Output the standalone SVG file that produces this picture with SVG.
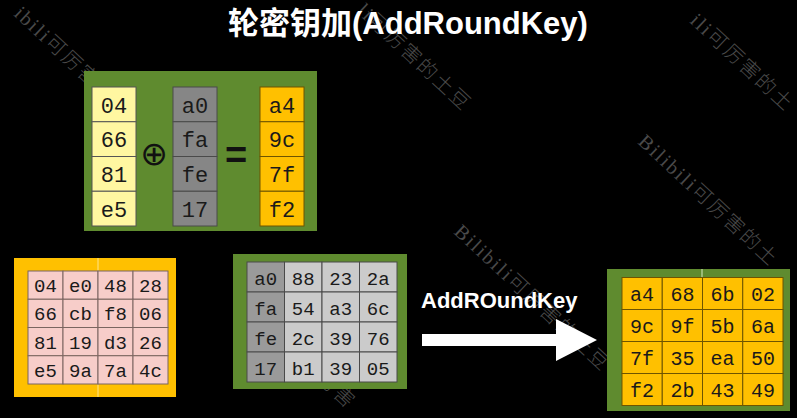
<svg xmlns="http://www.w3.org/2000/svg" width="797" height="418" viewBox="0 0 797 418">
<style>
.wm{font-family:"Liberation Serif","Noto Sans CJK SC",serif;font-size:20px;letter-spacing:2px;fill:#4a4a4a;font-weight:300}
.title{font-family:"Liberation Sans","Noto Sans CJK SC",sans-serif;font-weight:bold;font-size:31px;fill:#fff}
.lbl{font-family:"Liberation Sans",Arial,sans-serif;font-weight:bold;font-size:22px;fill:#fff}
.m22{font-family:"Liberation Mono","Courier New",monospace;font-size:22px;fill:#1a1a1a;text-anchor:middle}
.m19{font-family:"Liberation Mono","Courier New",monospace;font-size:19px;fill:#1a1a1a;text-anchor:middle}
.m20{font-family:"Liberation Mono","Courier New",monospace;font-size:20px;fill:#1a1a1a;text-anchor:middle}
.green{fill:#5f8b2f}
.y{fill:#fff7a1;stroke:#555;stroke-width:1}
.g{fill:#868686;stroke:#4a4a4a;stroke-width:1}
.o{fill:#ffc000;stroke:#6e5400;stroke-width:1}
.p{fill:#f7cdc9;stroke:#7a6560;stroke-width:1}
.dg{fill:#9a9a9a;stroke:#4a4a4a;stroke-width:1}
.lg{fill:#cbcbcb;stroke:#4a4a4a;stroke-width:1}
</style>
<rect width="797" height="418" fill="#000"/>

<g id="watermarks">
<text class="wm" transform="translate(13,15) rotate(43)">ibili可厉害</text>
<text class="wm" transform="translate(356,12) rotate(43)">li可厉害的土豆</text>
<text class="wm" transform="translate(689,22) rotate(43)">ili可厉害的土</text>
<text class="wm" transform="translate(637,143) rotate(43)">Bilibili可厉害的土</text>
<text class="wm" transform="translate(453,233) rotate(43)">Bilibili可厉害的土豆</text>
<text class="wm" transform="translate(316,380) rotate(43)">厉害</text>
</g>

<g id="title"><text class="title" x="228" y="34">轮密钥加(AddRoundKey)</text></g>

<g id="xor-panel">
<rect class="green" x="84" y="71" width="233" height="160"/>
<g id="state-col">
<rect class="y" x="92" y="87" width="44" height="34.75"/>
<rect class="y" x="92" y="121.75" width="44" height="34.75"/>
<rect class="y" x="92" y="156.5" width="44" height="34.75"/>
<rect class="y" x="92" y="191.25" width="44" height="34.75"/>
<text class="m22" x="114" y="112.7">04</text>
<text class="m22" x="114" y="147.4">66</text>
<text class="m22" x="114" y="182.2">81</text>
<text class="m22" x="114" y="216.9">e5</text>
</g>
<text x="154" y="165" text-anchor="middle" font-family="DejaVu Sans,sans-serif" font-size="33" fill="#111">⊕</text>
<g id="key-col">
<rect class="g" x="173" y="87" width="44" height="34.75"/>
<rect class="g" x="173" y="121.75" width="44" height="34.75"/>
<rect class="g" x="173" y="156.5" width="44" height="34.75"/>
<rect class="g" x="173" y="191.25" width="44" height="34.75"/>
<text class="m22" x="195" y="112.7">a0</text>
<text class="m22" x="195" y="147.4">fa</text>
<text class="m22" x="195" y="182.2">fe</text>
<text class="m22" x="195" y="216.9">17</text>
</g>
<text x="236" y="168" text-anchor="middle" font-family="Liberation Sans,sans-serif" font-weight="bold" font-size="38" fill="#111">=</text>
<g id="result-col">
<rect class="o" x="260" y="87" width="44" height="34.75"/>
<rect class="o" x="260" y="121.75" width="44" height="34.75"/>
<rect class="o" x="260" y="156.5" width="44" height="34.75"/>
<rect class="o" x="260" y="191.25" width="44" height="34.75"/>
<text class="m22" x="282" y="112.7">a4</text>
<text class="m22" x="282" y="147.4">9c</text>
<text class="m22" x="282" y="182.2">7f</text>
<text class="m22" x="282" y="216.9">f2</text>
</g>
</g>

<g id="state-matrix">
<rect x="14" y="258" width="162" height="139" fill="#ffc000"/>
<line x1="98" y1="258" x2="98" y2="397" stroke="#ffe48a" stroke-width="1"/>
<g>
<rect class="p" x="28" y="271" width="35" height="28.25"/><rect class="p" x="63" y="271" width="35" height="28.25"/><rect class="p" x="98" y="271" width="35" height="28.25"/><rect class="p" x="133" y="271" width="35" height="28.25"/>
<rect class="p" x="28" y="299.25" width="35" height="28.25"/><rect class="p" x="63" y="299.25" width="35" height="28.25"/><rect class="p" x="98" y="299.25" width="35" height="28.25"/><rect class="p" x="133" y="299.25" width="35" height="28.25"/>
<rect class="p" x="28" y="327.5" width="35" height="28.25"/><rect class="p" x="63" y="327.5" width="35" height="28.25"/><rect class="p" x="98" y="327.5" width="35" height="28.25"/><rect class="p" x="133" y="327.5" width="35" height="28.25"/>
<rect class="p" x="28" y="355.75" width="35" height="28.25"/><rect class="p" x="63" y="355.75" width="35" height="28.25"/><rect class="p" x="98" y="355.75" width="35" height="28.25"/><rect class="p" x="133" y="355.75" width="35" height="28.25"/>
</g>
<g>
<text class="m19" x="45.5" y="292">04</text><text class="m19" x="80.5" y="292">e0</text><text class="m19" x="115.5" y="292">48</text><text class="m19" x="150.5" y="292">28</text>
<text class="m19" x="45.5" y="320.3">66</text><text class="m19" x="80.5" y="320.3">cb</text><text class="m19" x="115.5" y="320.3">f8</text><text class="m19" x="150.5" y="320.3">06</text>
<text class="m19" x="45.5" y="348.5">81</text><text class="m19" x="80.5" y="348.5">19</text><text class="m19" x="115.5" y="348.5">d3</text><text class="m19" x="150.5" y="348.5">26</text>
<text class="m19" x="45.5" y="376.8">e5</text><text class="m19" x="80.5" y="376.8">9a</text><text class="m19" x="115.5" y="376.8">7a</text><text class="m19" x="150.5" y="376.8">4c</text>
</g>
</g>

<g id="round-key-matrix">
<rect class="green" x="233" y="254" width="174" height="135"/>
<g>
<rect class="dg" x="247" y="262" width="37.5" height="30"/><rect class="lg" x="284.5" y="262" width="37.5" height="30"/><rect class="lg" x="322" y="262" width="37.5" height="30"/><rect class="lg" x="359.5" y="262" width="37.5" height="30"/>
<rect class="dg" x="247" y="292" width="37.5" height="30"/><rect class="lg" x="284.5" y="292" width="37.5" height="30"/><rect class="lg" x="322" y="292" width="37.5" height="30"/><rect class="lg" x="359.5" y="292" width="37.5" height="30"/>
<rect class="dg" x="247" y="322" width="37.5" height="30"/><rect class="lg" x="284.5" y="322" width="37.5" height="30"/><rect class="lg" x="322" y="322" width="37.5" height="30"/><rect class="lg" x="359.5" y="322" width="37.5" height="30"/>
<rect class="dg" x="247" y="352" width="37.5" height="30"/><rect class="lg" x="284.5" y="352" width="37.5" height="30"/><rect class="lg" x="322" y="352" width="37.5" height="30"/><rect class="lg" x="359.5" y="352" width="37.5" height="30"/>
</g>
<g>
<text class="m19" x="265.75" y="285">a0</text><text class="m19" x="303.25" y="285">88</text><text class="m19" x="340.75" y="285">23</text><text class="m19" x="378.25" y="285">2a</text>
<text class="m19" x="265.75" y="315">fa</text><text class="m19" x="303.25" y="315">54</text><text class="m19" x="340.75" y="315">a3</text><text class="m19" x="378.25" y="315">6c</text>
<text class="m19" x="265.75" y="345">fe</text><text class="m19" x="303.25" y="345">2c</text><text class="m19" x="340.75" y="345">39</text><text class="m19" x="378.25" y="345">76</text>
<text class="m19" x="265.75" y="375">17</text><text class="m19" x="303.25" y="375">b1</text><text class="m19" x="340.75" y="375">39</text><text class="m19" x="378.25" y="375">05</text>
</g>
</g>

<g id="connectors">
<polygon points="422,334 556,334 556,319 597,340 556,361 556,346 422,346" fill="#fff"/>
<text class="lbl" x="421" y="308">AddROundKey</text>
</g>

<g id="result-matrix">
<rect class="green" x="607" y="269" width="183" height="142"/>
<line x1="702" y1="269" x2="702" y2="278" stroke="#d8e8c0" stroke-width="1"/>
<g>
<rect class="o" x="622" y="277.5" width="40.25" height="32"/><rect class="o" x="662.25" y="277.5" width="40.25" height="32"/><rect class="o" x="702.5" y="277.5" width="40.25" height="32"/><rect class="o" x="742.75" y="277.5" width="40.25" height="32"/>
<rect class="o" x="622" y="309.5" width="40.25" height="32"/><rect class="o" x="662.25" y="309.5" width="40.25" height="32"/><rect class="o" x="702.5" y="309.5" width="40.25" height="32"/><rect class="o" x="742.75" y="309.5" width="40.25" height="32"/>
<rect class="o" x="622" y="341.5" width="40.25" height="32"/><rect class="o" x="662.25" y="341.5" width="40.25" height="32"/><rect class="o" x="702.5" y="341.5" width="40.25" height="32"/><rect class="o" x="742.75" y="341.5" width="40.25" height="32"/>
<rect class="o" x="622" y="373.5" width="40.25" height="32"/><rect class="o" x="662.25" y="373.5" width="40.25" height="32"/><rect class="o" x="702.5" y="373.5" width="40.25" height="32"/><rect class="o" x="742.75" y="373.5" width="40.25" height="32"/>
</g>
<g>
<text class="m20" x="642.1" y="301">a4</text><text class="m20" x="682.4" y="301">68</text><text class="m20" x="722.6" y="301">6b</text><text class="m20" x="762.9" y="301">02</text>
<text class="m20" x="642.1" y="333">9c</text><text class="m20" x="682.4" y="333">9f</text><text class="m20" x="722.6" y="333">5b</text><text class="m20" x="762.9" y="333">6a</text>
<text class="m20" x="642.1" y="365">7f</text><text class="m20" x="682.4" y="365">35</text><text class="m20" x="722.6" y="365">ea</text><text class="m20" x="762.9" y="365">50</text>
<text class="m20" x="642.1" y="397">f2</text><text class="m20" x="682.4" y="397">2b</text><text class="m20" x="722.6" y="397">43</text><text class="m20" x="762.9" y="397">49</text>
</g>
</g>
</svg>
